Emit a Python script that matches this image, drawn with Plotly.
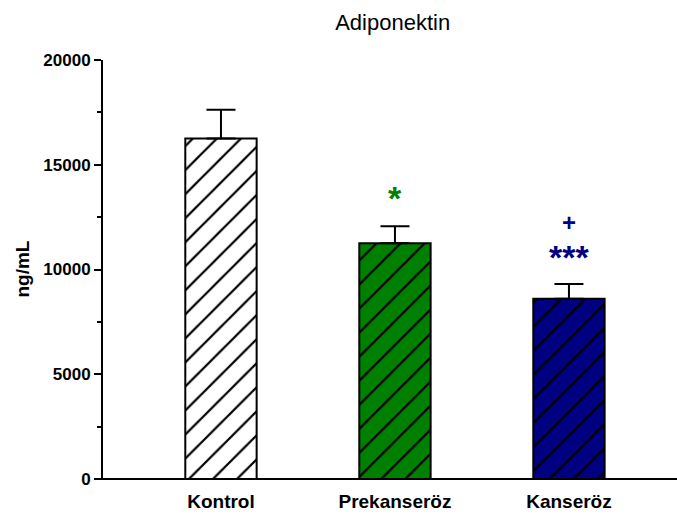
import plotly.graph_objects as go

# Adiponectin levels by group (mean with upper SEM)
groups = ["Kontrol", "Prekanseröz", "Kanseröz"]
means = [16250, 11250, 8600]
sem = [1380, 820, 710]
fill_colors = ["#ffffff", "#008000", "#000080"]

# Significance marks shown above the bars
mark_text = ["*", "+", "***"]
mark_group = ["Prekanseröz", "Kanseröz", "Kanseröz"]
mark_value = [13400, 12250, 10600]
mark_color = ["#008000", "#000080", "#000080"]
mark_size = [34, 24, 34]

y_ticks = [0, 5000, 10000, 15000, 20000]
y_tick_labels = ["0", "5000", "10000", "15000", "20000"]

fig = go.Figure()
# Solid fill of each bar
fig.add_trace(go.Bar(
    x=groups,
    y=means,
    width=0.41,
    marker=dict(color=fill_colors, line=dict(width=0)),
    hoverinfo="skip",
    showlegend=False,
))
# Black diagonal hatching, outline and upper error bar on top
fig.add_trace(go.Bar(
    x=groups,
    y=means,
    width=0.41,
    marker=dict(
        color="black",
        line=dict(color="black", width=2),
        pattern=dict(shape="/", size=17, solidity=0.13, fgopacity=1,
                     bgcolor="rgba(0,0,0,0)", fillmode="replace"),
    ),
    error_y=dict(type="data", symmetric=False, array=sem,
                 arrayminus=[0] * len(sem),
                 color="black", thickness=2, width=14.5),
    showlegend=False,
))

for t, g, v, c, s in zip(mark_text, mark_group, mark_value, mark_color, mark_size):
    fig.add_annotation(x=g, y=v, text=t, showarrow=False,
                       font=dict(family="Liberation Sans, Arial", size=s, color=c,
                                 weight="bold"),
                       xanchor="center", yanchor="middle")

# Y-axis title placed as rotated text left of the tick labels
fig.add_annotation(x=-0.141, y=0.5, xref="paper", yref="paper", text="ng/mL",
                   textangle=-90, showarrow=False, xanchor="center", yanchor="middle",
                   font=dict(family="Liberation Sans, Arial", size=19, color="black",
                             weight="bold"))

axis_font = dict(family="Liberation Sans, Arial", size=17, color="black", weight="bold")

fig.update_layout(
    width=677, height=515,
    barmode="overlay",
    margin=dict(l=103, r=0, t=60, b=36),
    paper_bgcolor="white", plot_bgcolor="white",
    title=dict(text="Adiponektin", x=0.58, xanchor="center", y=0.957, yanchor="middle",
               font=dict(family="Liberation Sans, Arial", size=22, color="black")),
    xaxis=dict(range=[-0.678, 2.621], showline=False, showgrid=False, zeroline=False,
               ticks="", ticklabelstandoff=9,
               tickfont=dict(family="Liberation Sans, Arial", size=19,
                             color="black", weight="bold")),
    yaxis=dict(range=[0, 20000], tickvals=y_ticks, ticktext=y_tick_labels,
               showline=True, linecolor="black",
               linewidth=2, showgrid=False, zeroline=False, ticks="outside",
               ticklen=7, tickwidth=1.5, tickcolor="black", tickfont=axis_font,
               minor=dict(dtick=2500, ticks="outside", ticklen=4, tickwidth=1.5,
                          tickcolor="black", showgrid=False)),
)

# Horizontal baseline extending slightly left of the y axis
fig.add_shape(type="line", xref="paper", yref="paper", x0=-6 / 574, x1=1, y0=0, y1=0,
              line=dict(color="black", width=2))

fig.write_html("out.html")
